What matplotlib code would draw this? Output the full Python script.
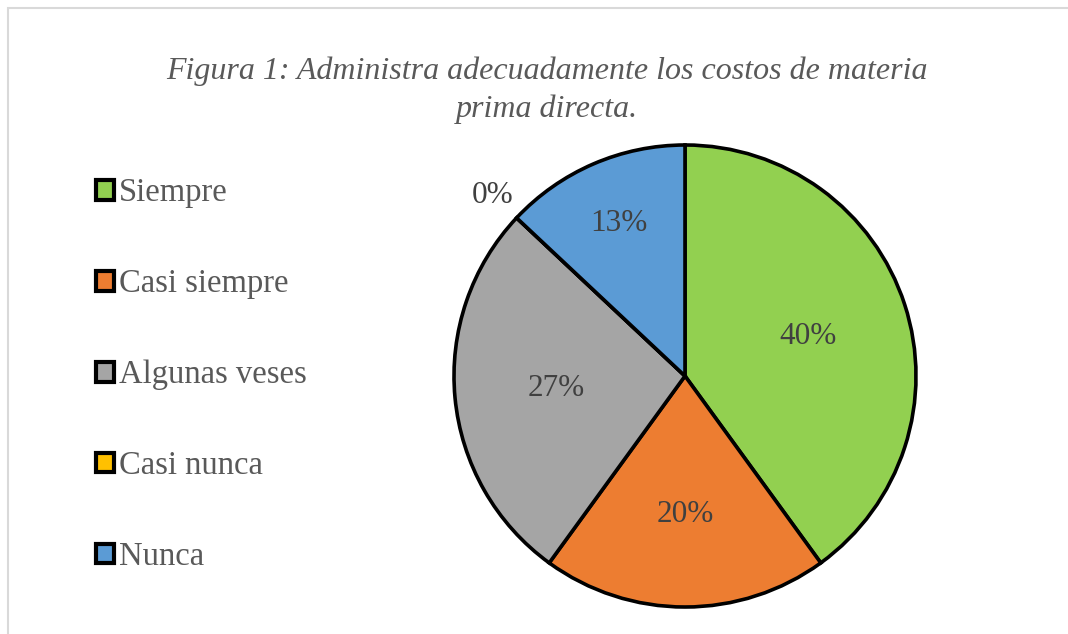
import numpy as np
import matplotlib.pyplot as plt
from matplotlib.patches import Rectangle

categorias = ['Siempre', 'Casi siempre', 'Algunas veses', 'Casi nunca', 'Nunca']
valores = [40, 20, 27, 0, 13]
colores = ['#92D050', '#ED7D31', '#A5A5A5', '#FFC000', '#5B9BD5']
dist_etiquetas = [0.56, 0.60, 0.56, 1.14, 0.72]

plt.rcParams['font.family'] = ['Liberation Serif', 'DejaVu Serif']

fig = plt.figure(figsize=(10.68, 6.34), dpi=100)
W, H = 1068, 634

# marco gris claro (recortado a la derecha y abajo)
fig.patches.append(Rectangle((8 / W, -0.1), 1.2, 1 - 8 / H + 0.1, transform=fig.transFigure,
                             fill=False, edgecolor='#D9D9D9', linewidth=1.5))

cx, cy, r = 685, 376, 231
ax = fig.add_axes([(cx - r) / W, (H - cy - r) / H, 2 * r / W, 2 * r / H])

wedges, textos, autotextos = ax.pie(
    valores, colors=colores, startangle=90, counterclock=False,
    autopct='%1.0f%%', pctdistance=0.6,
    wedgeprops=dict(edgecolor='black', linewidth=2.6),
    textprops=dict(color='#404040', fontsize=22.5))
ax.set_xlim(-1, 1)
ax.set_ylim(-1, 1)

for w, t, d in zip(wedges, autotextos, dist_etiquetas):
    ang = np.deg2rad((w.theta1 + w.theta2) / 2)
    t.set_position((d * np.cos(ang), d * np.sin(ang)))

fig.text(547 / W, 1 - 71 / H, 'Figura 1: Administra adecuadamente los costos de materia',
         ha='center', va='center', fontsize=23, style='italic', color='#595959')
fig.text(547 / W, 1 - 109 / H, 'prima directa.',
         ha='center', va='center', fontsize=23, style='italic', color='#595959')

leg = fig.legend(wedges, categorias, loc='upper left', bbox_to_anchor=(96 / W, 1 - 178 / H),
                 frameon=False, fontsize=23.5, handlelength=0.55, handleheight=0.55,
                 handletextpad=0.15, labelspacing=1.85, borderaxespad=0, borderpad=0)
for txt in leg.get_texts():
    txt.set_color('#595959')
for h in leg.legend_handles:
    h.set_linewidth(3)

fig.savefig('out.png', dpi=100)
